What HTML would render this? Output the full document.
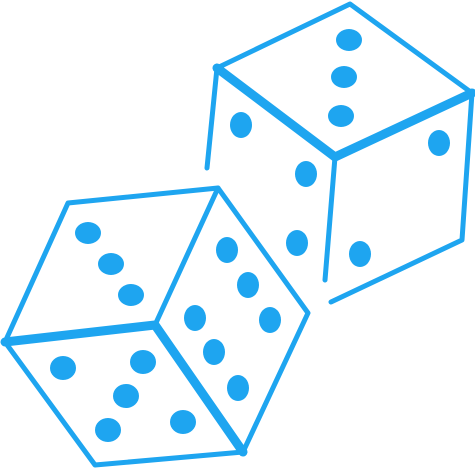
<!DOCTYPE html>
<html><head><meta charset="utf-8"><style>
html,body{margin:0;padding:0;background:#fff;width:475px;height:469px;overflow:hidden}
</style></head><body>
<svg width="475" height="469" viewBox="0 0 475 469" xmlns="http://www.w3.org/2000/svg">
<g fill="none" stroke="#1ea5f0" stroke-width="5" stroke-linejoin="round" stroke-linecap="round">
  <g>
    <path d="M217,68 L350,4 L472,93"/>
    <path d="M217,68 L207,168"/>
    <path d="M472,93 L462,240 L331,302"/>
    <path d="M335,157 L325,280"/>
    <path d="M217,68 L335,157 L472,93" stroke-width="9"/>
  </g>
  <g>
    <path d="M5,342 L68,203 L218,188 L308,313 L243,452 L95,465 Z"/>
    <path d="M218,188 L155,325"/>
    <path d="M5,342 L155,325 L243,452" stroke-width="9"/>
  </g>
</g>
<g fill="#1ea5f0">
  <ellipse cx="349" cy="40" rx="13" ry="11"/>
  <ellipse cx="344" cy="77" rx="13" ry="11"/>
  <ellipse cx="341" cy="116" rx="13" ry="11"/>
  <ellipse cx="241" cy="125" rx="11" ry="13"/>
  <ellipse cx="306" cy="174" rx="11" ry="13"/>
  <ellipse cx="297" cy="243" rx="11" ry="13"/>
  <ellipse cx="439" cy="143" rx="11" ry="13"/>
  <ellipse cx="360" cy="254" rx="11" ry="13"/>
  <ellipse cx="88" cy="233" rx="13" ry="11"/>
  <ellipse cx="111" cy="264" rx="13" ry="11"/>
  <ellipse cx="131" cy="295" rx="13" ry="11"/>
  <ellipse cx="63" cy="368" rx="13" ry="12"/>
  <ellipse cx="143" cy="362" rx="13" ry="12"/>
  <ellipse cx="126" cy="396" rx="13" ry="12"/>
  <ellipse cx="108" cy="430" rx="13" ry="12"/>
  <ellipse cx="183" cy="422" rx="13" ry="12"/>
  <ellipse cx="227" cy="250" rx="11" ry="13"/>
  <ellipse cx="248" cy="285" rx="11" ry="13"/>
  <ellipse cx="270" cy="320" rx="11" ry="13"/>
  <ellipse cx="195" cy="318" rx="11" ry="13"/>
  <ellipse cx="214" cy="352" rx="11" ry="13"/>
  <ellipse cx="238" cy="388" rx="11" ry="13"/>
</g>
</svg>
</body></html>
